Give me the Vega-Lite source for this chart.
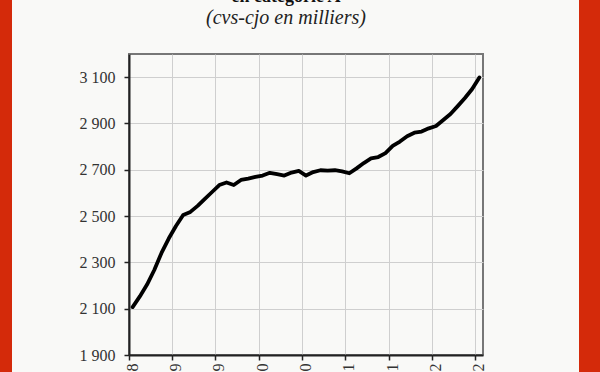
{
  "$schema": "https://vega.github.io/schema/vega-lite/v6.json",
  "background": "#f9f9f7",
  "padding": {"left": 0, "right": 0, "top": -20, "bottom": -48},
  "spacing": 0,
  "config": {
    "font": "Liberation Serif",
    "view": {"stroke": null}
  },
  "datasets": {
    "cat_a": [
      {"mois": "déc-08", "valeur": 2107},
      {"mois": "janv-09", "valeur": 2153},
      {"mois": "févr-09", "valeur": 2204},
      {"mois": "mars-09", "valeur": 2267},
      {"mois": "avr-09", "valeur": 2341},
      {"mois": "mai-09", "valeur": 2403},
      {"mois": "juin-09", "valeur": 2457},
      {"mois": "juil-09", "valeur": 2505},
      {"mois": "août-09", "valeur": 2518},
      {"mois": "sept-09", "valeur": 2544},
      {"mois": "oct-09", "valeur": 2574},
      {"mois": "nov-09", "valeur": 2604},
      {"mois": "déc-09", "valeur": 2634},
      {"mois": "janv-10", "valeur": 2645},
      {"mois": "févr-10", "valeur": 2634},
      {"mois": "mars-10", "valeur": 2656},
      {"mois": "avr-10", "valeur": 2662},
      {"mois": "mai-10", "valeur": 2669},
      {"mois": "juin-10", "valeur": 2675},
      {"mois": "juil-10", "valeur": 2687},
      {"mois": "août-10", "valeur": 2681},
      {"mois": "sept-10", "valeur": 2675},
      {"mois": "oct-10", "valeur": 2688},
      {"mois": "nov-10", "valeur": 2695},
      {"mois": "déc-10", "valeur": 2675},
      {"mois": "janv-11", "valeur": 2690},
      {"mois": "févr-11", "valeur": 2698},
      {"mois": "mars-11", "valeur": 2696},
      {"mois": "avr-11", "valeur": 2698},
      {"mois": "mai-11", "valeur": 2693},
      {"mois": "juin-11", "valeur": 2685},
      {"mois": "juil-11", "valeur": 2706},
      {"mois": "août-11", "valeur": 2729},
      {"mois": "sept-11", "valeur": 2749},
      {"mois": "oct-11", "valeur": 2755},
      {"mois": "nov-11", "valeur": 2772},
      {"mois": "déc-11", "valeur": 2803},
      {"mois": "janv-12", "valeur": 2822},
      {"mois": "févr-12", "valeur": 2845},
      {"mois": "mars-12", "valeur": 2860},
      {"mois": "avr-12", "valeur": 2865},
      {"mois": "mai-12", "valeur": 2879},
      {"mois": "juin-12", "valeur": 2889},
      {"mois": "juil-12", "valeur": 2915},
      {"mois": "août-12", "valeur": 2941},
      {"mois": "sept-12", "valeur": 2975},
      {"mois": "oct-12", "valeur": 3010},
      {"mois": "nov-12", "valeur": 3049},
      {"mois": "déc-12", "valeur": 3099}
    ],
    "bande": [{}]
  },
  "hconcat": [
    {
      "data": {"name": "bande"},
      "width": 12,
      "height": 440,
      "mark": {"type": "rect", "color": "#d42a0a"},
      "encoding": {}
    },
    {
      "data": {"name": "bande"},
      "width": 66,
      "height": 10,
      "mark": {"type": "rect", "opacity": 0},
      "encoding": {}
    },
    {
      "spacing": 0,
      "vconcat": [
        {
          "data": {"name": "bande"},
          "width": 354,
          "height": 73,
          "mark": {"type": "rect", "opacity": 0},
          "encoding": {},
          "title": {
            "text": "en catégorie A",
            "subtitle": "(cvs-cjo en milliers)",
            "anchor": "middle",
            "dx": -20,
            "font": "Liberation Serif",
            "fontSize": 18,
            "fontWeight": "bold",
            "color": "#111111",
            "subtitleFont": "Liberation Serif",
            "subtitleFontSize": 20,
            "subtitleFontStyle": "italic",
            "subtitleColor": "#222222",
            "subtitlePadding": 2,
            "offset": -48
          }
        },
        {
          "data": {"name": "cat_a"},
          "width": 354,
          "height": 301,
          "view": {"stroke": "#777777", "strokeWidth": 2},
          "mark": {"type": "line", "color": "#000000", "strokeWidth": 3.8, "strokeJoin": "round", "strokeCap": "round"},
          "encoding": {
            "x": {
              "field": "mois",
              "type": "ordinal",
              "sort": null,
              "scale": {"type": "band", "paddingInner": 0, "paddingOuter": 0},
              "axis": {
                "title": null,
                "values": ["déc-08", "juin-09", "déc-09", "juin-10", "déc-10", "juin-11", "déc-11", "juin-12", "déc-12"],
                "bandPosition": 0,
                "labelAngle": -90,
                "labelFontSize": 16,
                "labelColor": "#333333",
                "labelPadding": 3,
                "grid": true,
                "gridColor": "#cfcfcf",
                "gridWidth": 1,
                "domainColor": "#222222",
                "domainWidth": 2,
                "tickColor": "#222222",
                "tickWidth": 1.5,
                "tickSize": 5
              }
            },
            "y": {
              "field": "valeur",
              "type": "quantitative",
              "scale": {"domain": [1900, 3200], "nice": false, "zero": false},
              "axis": {
                "title": null,
                "values": [1900, 2100, 2300, 2500, 2700, 2900, 3100],
                "labelExpr": "floor(datum.value / 1000) + ' ' + format(datum.value % 1000, '03d')",
                "labelFontSize": 16,
                "labelColor": "#333333",
                "labelPadding": 9,
                "grid": true,
                "gridColor": "#cfcfcf",
                "gridWidth": 1,
                "domainColor": "#222222",
                "domainWidth": 2,
                "tickColor": "#222222",
                "tickWidth": 1.5,
                "tickSize": 5
              }
            }
          }
        }
      ]
    },
    {
      "data": {"name": "bande"},
      "width": 91,
      "height": 10,
      "mark": {"type": "rect", "opacity": 0},
      "encoding": {}
    },
    {
      "data": {"name": "bande"},
      "width": 21,
      "height": 440,
      "mark": {"type": "rect", "color": "#d42a0a"},
      "encoding": {}
    }
  ]
}
